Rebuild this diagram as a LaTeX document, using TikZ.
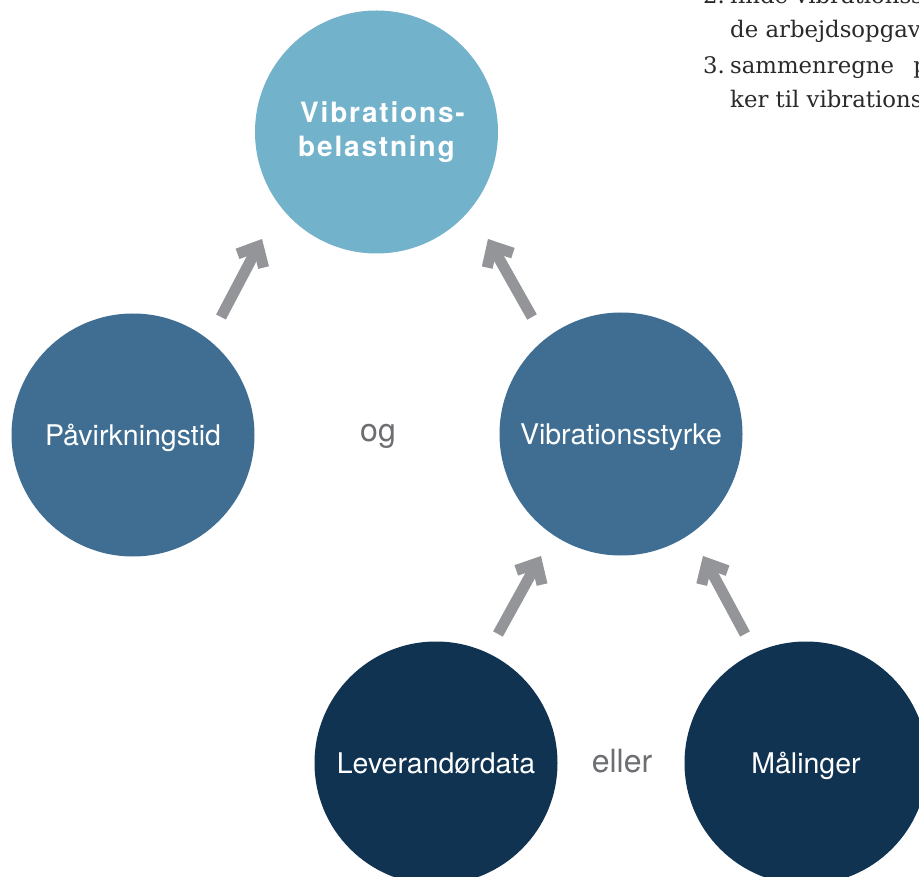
\documentclass[tikz,border=0pt]{standalone}
\usepackage{fontspec}
\setmainfont{TeX Gyre Heros}
\newfontfamily\serifdk{DejaVu Serif}
\newfontfamily\herosspaced[LetterSpace=6.5]{TeX Gyre Heros}
\usetikzlibrary{calc}
\definecolor{lightblue}{HTML}{72B3CB}
\definecolor{midblue}{HTML}{3F6E92}
\definecolor{darkblue}{HTML}{113352}
\definecolor{arrowgray}{HTML}{939598}
\definecolor{wordgray}{HTML}{6D6E71}
\definecolor{bodytext}{HTML}{2A2A2A}
\tikzset{
  bubble/.style={circle, inner sep=0pt, minimum size=243pt, text=white,
    font=\fontsize{28.5}{34}\selectfont, text height=20.5pt, text depth=0pt},
  toplabel/.style={text=white, inner sep=0pt, font=\herosspaced\bfseries\fontsize{28}{34}\selectfont},
  wordlbl/.style={text=wordgray, inner sep=0pt, font=\fontsize{32}{38}\selectfont},
  bodyline/.style={text=bodytext, inner sep=0pt, anchor=base west, font=\serifdk\fontsize{22.8}{35}\selectfont},
  arrowline/.style={draw=arrowgray, line width=11pt, line join=miter, line cap=butt}
}
\newcommand\bigarrow[2]{%
  \coordinate (#2v) at ($(#2)!8.2pt!(#1)$);
  \draw[arrowline] (#1) -- (#2v);
  \draw[arrowline] ($(#2v)!22pt!42:(#1)$) -- (#2v) -- ($(#2v)!22pt!-42:(#1)$);
}
\begin{document}
\begin{tikzpicture}[x=1pt,y=-1pt]
\useasboundingbox (0,0) rectangle (919,877);
\clip (0,0) rectangle (919,877);
\fill[white] (0,0) rectangle (919,877);

% circles
\node[bubble, fill=lightblue] (belast) at (376.5,132) {};
\node[toplabel, anchor=base west] (belastA) at (300,123) {Vibrations-};
\node[toplabel, anchor=base west] (belastB) at (298,157) {belastning};

\node[bubble, fill=midblue] (pav) at (133,435) {Påvirkningstid};
\node[bubble, fill=midblue] (styrke) at (621,434) {Vibrationsstyrke};
\node[bubble, fill=darkblue] (lev) at (436,763) {Leverandørdata};
\node[bubble, fill=darkblue] (maal) at (806,763) {Målinger};

% words
\node[wordlbl, anchor=base] (og) at (378,442) {og};
\node[wordlbl, anchor=base] (eller) at (622,772) {eller};

% arrows
\coordinate (t1) at (221,317); \coordinate (h1) at (262,239);
\coordinate (t2) at (532,317); \coordinate (h2) at (488,239);
\coordinate (t3) at (498,634); \coordinate (h3) at (541,556);
\coordinate (t4) at (745,634); \coordinate (h4) at (703,556);
\bigarrow{t1}{h1}
\bigarrow{t2}{h2}
\bigarrow{t3}{h3}
\bigarrow{t4}{h4}

% body text (cropped page)
\node[bodyline] (n2) at (703,4) {2.};
\node[bodyline] (l1) at (730,4) {finde vibrationsstyrken for};
\node[bodyline] (l2) at (730,38) {de arbejdsopgaver, der udføres};
\node[bodyline] (n3) at (703,74) {3.};
\node[bodyline] (l3) at (730,74) {sammenregne\hspace{12pt} påvirkningstider og};
\node[bodyline] (l4) at (730,108) {ker til vibrationsbelastning};
\end{tikzpicture}
\end{document}
